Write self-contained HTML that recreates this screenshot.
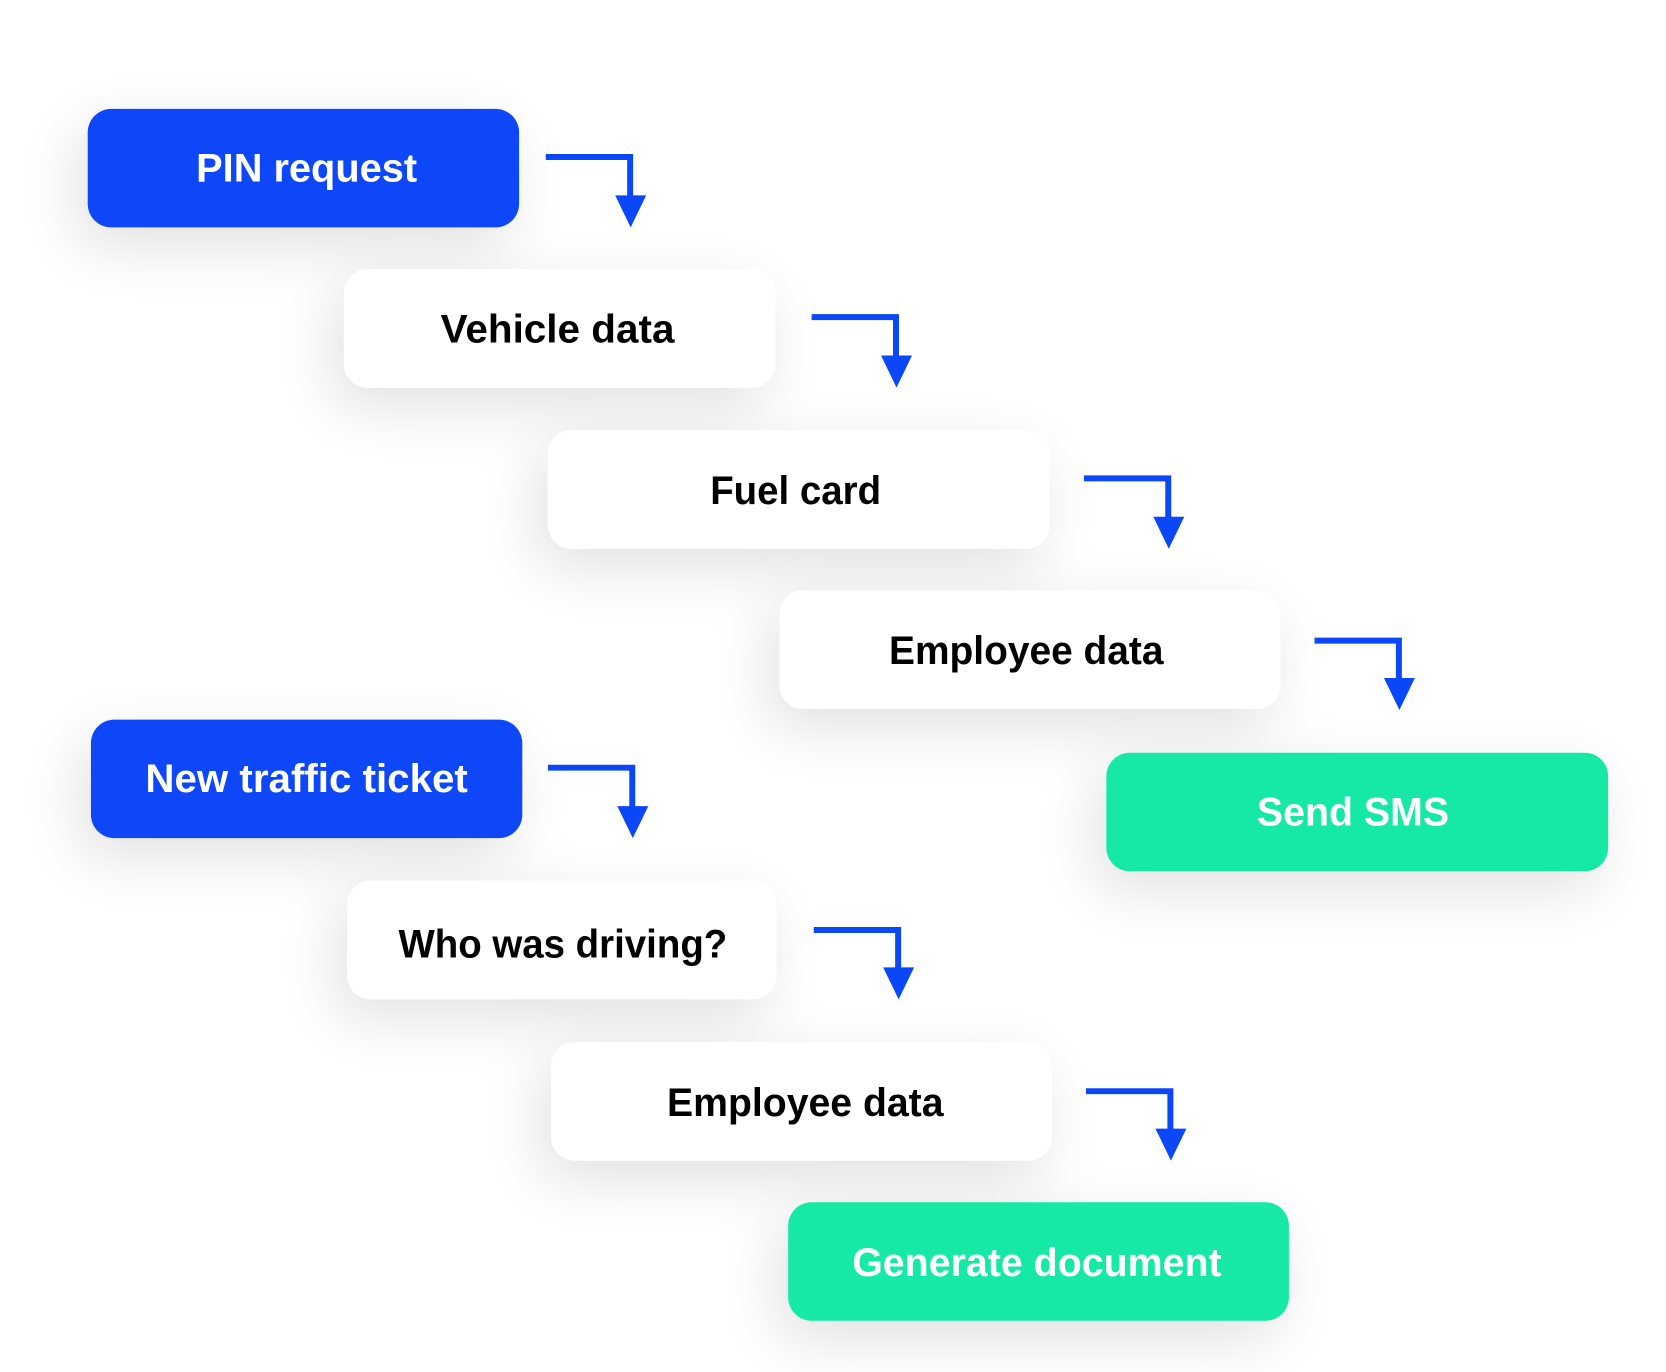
<!DOCTYPE html>
<html><head><meta charset="utf-8"><style>
html,body{margin:0;padding:0;background:#fff;}
svg{display:block;}
text{font-family:"Liberation Sans",sans-serif;font-weight:bold;font-size:37px;text-anchor:middle;}
</style></head><body>
<svg width="1666" height="1372" viewBox="0 0 1560 1285" xmlns="http://www.w3.org/2000/svg">
<defs>
<filter id="sh" x="-40%" y="-80%" width="180%" height="260%">
<feGaussianBlur in="SourceAlpha" stdDeviation="28"/>
<feOffset dx="-10" dy="18"/>
<feComponentTransfer><feFuncA type="linear" slope="0.12"/></feComponentTransfer>
<feMerge><feMergeNode/><feMergeNode in="SourceGraphic"/></feMerge>
</filter>
</defs>
<g filter="url(#sh)">
<rect x="82" y="102" width="404" height="111" rx="22" fill="#0a47f7"/>
<rect x="322" y="252" width="404" height="111" rx="22" fill="#fff"/>
<rect x="513" y="403" width="470" height="111" rx="22" fill="#fff"/>
<rect x="730" y="553" width="469" height="111" rx="22" fill="#fff"/>
<rect x="85" y="674" width="404" height="111" rx="22" fill="#0a47f7"/>
<rect x="1036" y="705" width="470" height="111" rx="22" fill="#19e8a5"/>
<rect x="325" y="825" width="402" height="111" rx="22" fill="#fff"/>
<rect x="516" y="976" width="469" height="111" rx="22" fill="#fff"/>
<rect x="738" y="1126" width="469" height="111" rx="22" fill="#19e8a5"/>
</g>
<text x="287" y="170" fill="#fff" textLength="207" lengthAdjust="spacingAndGlyphs">PIN request</text>
<text x="522" y="321" fill="#000" textLength="219" lengthAdjust="spacingAndGlyphs">Vehicle data</text>
<text x="745" y="472" fill="#000" textLength="160" lengthAdjust="spacingAndGlyphs">Fuel card</text>
<text x="961" y="622" fill="#000" textLength="257" lengthAdjust="spacingAndGlyphs">Employee data</text>
<text x="287" y="742" fill="#fff" textLength="302" lengthAdjust="spacingAndGlyphs">New traffic ticket</text>
<text x="1267" y="773" fill="#fff" textLength="180" lengthAdjust="spacingAndGlyphs">Send SMS</text>
<text x="527" y="897" fill="#000" textLength="308" lengthAdjust="spacingAndGlyphs">Who was driving?</text>
<text x="754" y="1045" fill="#000" textLength="259" lengthAdjust="spacingAndGlyphs">Employee data</text>
<text x="971" y="1195" fill="#fff" textLength="346" lengthAdjust="spacingAndGlyphs">Generate document</text>
<g fill="none" stroke="#0a47f7" stroke-width="5.6">
<path d="M511 147H590V185"/>
<path d="M760 297H839V335"/>
<path d="M1015 448H1094V486"/>
<path d="M1231 600H1310V638"/>
<path d="M513 719H592V757"/>
<path d="M762 871H841V909"/>
<path d="M1017 1022H1096V1060"/>
</g>
<g fill="#0a47f7">
<path d="M576 183H605L590.5 213Z"/>
<path d="M825 333H854L839.5 363Z"/>
<path d="M1080 484H1109L1094.5 514Z"/>
<path d="M1296 635H1325L1310.5 665Z"/>
<path d="M578 755H607L592.5 785Z"/>
<path d="M827 906H856L841.5 936Z"/>
<path d="M1082 1057H1111L1096.5 1087Z"/>
</g>
</svg>
</body></html>
